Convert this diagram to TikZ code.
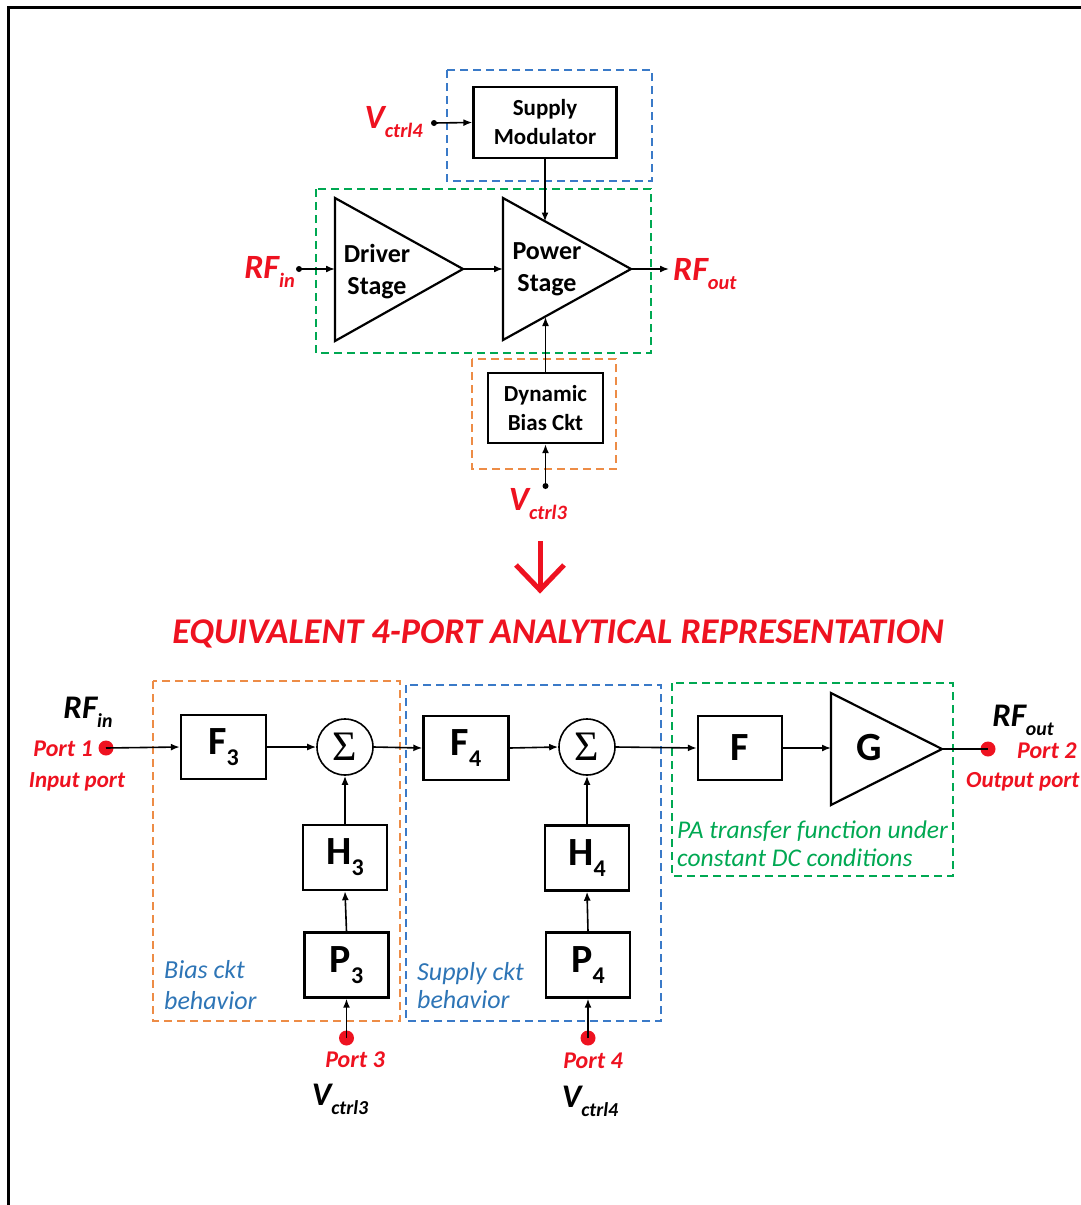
\documentclass[tikz,border=0pt]{standalone}
\usepackage{fontspec}
\setmainfont{Carlito}
\newfontfamily\sigfont{Liberation Serif}
\usetikzlibrary{arrows.meta}
\definecolor{rd}{RGB}{238,18,32}
\definecolor{bltxt}{RGB}{46,117,182}
\definecolor{bldash}{RGB}{58,122,200}
\definecolor{grn}{RGB}{0,168,82}
\definecolor{org}{RGB}{237,140,70}
\newcommand\sbs[1]{\raisebox{-0.28em}{\scalebox{0.6}{#1}}}
\begin{document}
\begin{tikzpicture}[x=1pt,y=-1pt,
  conn/.style={line width=1.6, -{Latex[length=9pt,width=7pt]}},
  plainln/.style={line width=1.6},
  blkbox/.style={draw, line width=2.4, minimum width=85pt, minimum height=64pt, inner sep=0, font=\fontsize{40pt}{42pt}\selectfont\bfseries},
  topbox/.style={draw, line width=2.4, inner sep=0, align=center, font=\fontsize{23pt}{29pt}\selectfont\bfseries},
  tri/.style={line width=2.2, line join=miter},
  dashbox/.style={line width=1.8, dash pattern=on 8pt off 5pt},
  pdot/.style={circle, fill=rd, inner sep=0, minimum size=15pt},
  bdot/.style={circle, fill=black, inner sep=0, minimum size=6pt},
  sumnode/.style={circle, draw, line width=1.6, minimum size=56pt, inner sep=0, font=\fontsize{42pt}{44pt}\selectfont\sigfont},
  redlbl/.style={text=rd, inner sep=0, font=\fontsize{34pt}{36pt}\selectfont\bfseries\itshape},
  blklbl/.style={text=black, inner sep=0, font=\fontsize{33pt}{35pt}\selectfont\bfseries\itshape},
  portlbl/.style={text=rd, inner sep=0, font=\fontsize{24pt}{26pt}\selectfont\bfseries\itshape},
  portsm/.style={text=rd, inner sep=0, font=\fontsize{23pt}{25pt}\selectfont\bfseries\itshape},
  desc/.style={inner sep=0, font=\fontsize{26pt}{28pt}\selectfont\itshape},
  descg/.style={inner sep=0, font=\fontsize{25.5pt}{28pt}\selectfont\itshape},
  trilbl/.style={inner sep=0, align=center, font=\fontsize{26pt}{32pt}\selectfont\bfseries}
]
\useasboundingbox (0,0) rectangle (1081,1205);
% frame
\draw[line width=3] (8,1210) -- (8,7) -- (1085,7);

% ================= TOP =================
\draw[dashbox, bldash] (447,70) rectangle (652,181);
\draw[dashbox, grn] (316,189) rectangle (651,353);
\draw[dashbox, org] (472,359) rectangle (616,469);

\node[topbox, minimum width=143pt, minimum height=71pt] (sm) at (545,122.5) {Supply\\Modulator};
\node[topbox, minimum width=115pt, minimum height=70pt] (dbc) at (545.5,408) {Dynamic\\Bias Ckt};

% triangles
\coordinate (drvA) at (335,198);
\coordinate (drvB) at (335,341);
\coordinate (drvTip) at (463,269);
\coordinate (drvL) at (335,269);
\draw[tri] (drvA) -- (drvTip) -- (drvB) -- cycle;
\node[trilbl] (drvT) at (377,272) {Driver\\Stage};

\coordinate (pwA) at (503,198);
\coordinate (pwB) at (503,340);
\coordinate (pwTip) at (631,269);
\coordinate (pwL) at (503,269);
\coordinate (pwTop) at (545,221.5);
\coordinate (pwBot) at (545.5,317);
\draw[tri] (pwA) -- (pwTip) -- (pwB) -- cycle;
\node[trilbl] (pwT) at (547,269) {Power\\Stage};

\node[bdot] (rfinDot) at (299,269) {};
\node[bdot] (v4Dot) at (434,123) {};
\node[bdot] (v3Dot) at (545.5,486) {};
\coordinate (rfoutEnd) at (669,269);

\draw[conn] (rfinDot.center) -- (drvL);
\draw[conn] (drvTip) -- (pwL);
\draw[conn] (pwTip) -- (rfoutEnd);
\draw[conn] (v4Dot.center) -- (sm.west);
\draw[conn] (sm.south) -- (pwTop);
\draw[conn] (dbc.north) -- (pwBot);
\draw[conn] (v3Dot.center) -- (dbc.south);

\node[redlbl, anchor=base east] (rfinTop) at (295,278) {RF\sbs{in}};
\node[redlbl, anchor=base west] (rfoutTop) at (673,280) {RF\sbs{out}};
\node[redlbl, anchor=base east] (v4Top) at (423,128) {V\sbs{ctrl4}};
\node[redlbl, anchor=base] (v3Top) at (538,510) {V\sbs{ctrl3}};

% ================= ARROW + TITLE =================
\coordinate (arT) at (540,541);
\coordinate (arB) at (540,590);
\coordinate (arL) at (516,565);
\coordinate (arR) at (564,565);
\draw[rd, line width=5] (arT) -- (arB);
\draw[rd, line width=5, line join=miter] (arL) -- (arB) -- (arR);
\node[text=rd, inner sep=0, anchor=base, font=\fontsize{36.2pt}{38pt}\selectfont\bfseries\itshape] (title) at (558,643) {EQUIVALENT 4-PORT ANALYTICAL REPRESENTATION};

% ================= BOTTOM =================
\draw[dashbox, org] (153,681) rectangle (400,1021);
\draw[dashbox, bldash] (406,685) rectangle (661,1021);
\draw[dashbox, grn] (672,683) rectangle (953,876);

\node[blkbox] (F3) at (223.5,747) {F\sbs{3}};
\node[sumnode] (S1) at (345,747) {Σ};
\node[blkbox] (F4) at (466,748) {F\sbs{4}};
\node[sumnode] (S2) at (587,747) {Σ};
\node[blkbox, minimum width=84pt] (Fb) at (740,748) {F};
\node[blkbox, minimum width=84pt, minimum height=65pt] (H3) at (345,857.5) {H\sbs{3}};
\node[blkbox, minimum width=84pt, minimum height=65pt] (P3) at (346.5,965) {P\sbs{3}};
\node[blkbox, minimum width=84pt, minimum height=65pt] (H4) at (587,858) {H\sbs{4}};
\node[blkbox, minimum width=84pt, minimum height=65pt] (P4) at (588,965) {P\sbs{4}};

\coordinate (gA) at (831,693);
\coordinate (gB) at (831,805);
\coordinate (gTip) at (942,749);
\coordinate (gL) at (831,748);
\draw[tri] (gA) -- (gTip) -- (gB) -- cycle;
\node[inner sep=0, font=\fontsize{40pt}{42pt}\selectfont\bfseries] (gT) at (869,748) {G};

\node[pdot] (p1) at (106,748) {};
\node[pdot] (p2) at (988,749) {};
\node[pdot] (p3) at (346.5,1038) {};
\node[pdot] (p4) at (588,1038) {};

\draw[conn] (p1.center) -- (F3.west);
\draw[conn] (F3.east) -- (S1.west);
\draw[conn] (S1.east) -- (F4.west);
\draw[conn] (F4.east) -- (S2.west);
\draw[conn] (S2.east) -- (Fb.west);
\draw[conn] (Fb.east) -- (gL);
\draw[plainln] (gTip) -- (p2.center);
\draw[conn] (H3.north) -- (S1.south);
\draw[conn] (P3.north) -- (H3.south);
\draw[conn] (p3.center) -- (P3.south);
\draw[conn] (H4.north) -- (S2.south);
\draw[conn] (P4.north) -- (H4.south);
\draw[conn] (p4.center) -- (P4.south);

\node[blklbl, anchor=base] (rfinB) at (88,718) {RF\sbs{in}};
\node[portlbl, anchor=base east] (port1) at (93,756) {Port 1};
\node[portsm, anchor=base] (inport) at (77,787) {Input port};
\node[blklbl, anchor=base] (rfoutB) at (1023,726) {RF\sbs{out}};
\node[portlbl, anchor=base west] (port2) at (1017,758) {Port 2};
\node[portsm, anchor=base west] (outport) at (966,787) {Output port};
\node[portlbl, anchor=base] (port3) at (355,1067) {Port 3};
\node[portlbl, anchor=base] (port4) at (593,1068) {Port 4};
\node[blklbl, anchor=base] (v3B) at (340,1105) {V\sbs{ctrl3}};
\node[blklbl, anchor=base] (v4B) at (590,1107) {V\sbs{ctrl4}};

\node[desc, text=bltxt, anchor=base west] (bias1) at (164,978) {Bias ckt};
\node[desc, text=bltxt, anchor=base west] (bias2) at (164,1009) {behavior};
\node[desc, text=bltxt, anchor=base west] (sup1) at (417,980) {Supply ckt};
\node[desc, text=bltxt, anchor=base west] (sup2) at (417,1008) {behavior};
\node[descg, text=grn, anchor=base west] (pa1) at (677,838) {PA transfer function under};
\node[descg, text=grn, anchor=base west] (pa2) at (677,866) {constant DC conditions};
\end{tikzpicture}
\end{document}
